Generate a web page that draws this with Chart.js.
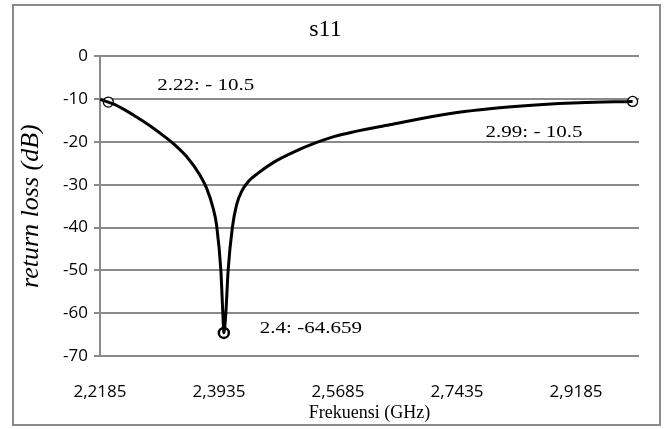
<!DOCTYPE html>
<html>
<head>
<meta charset="utf-8">
<script src="https://cdn.jsdelivr.net/npm/chart.js@4/dist/chart.umd.min.js"></script>
<style>
html,body{margin:0;padding:0;background:#fff;}
#wrap{width:670px;height:429px;position:relative;}
</style>
</head>
<body>
<div id="wrap"><canvas id="c" width="670" height="429"></canvas></div>
<script>
// ---- data ----
const freqGHz = [2.2185, 2.2307, 2.2405, 2.2674, 2.2919, 2.3164, 2.3286, 2.3458, 2.3653, 2.3752, 2.3849, 2.3899, 2.3962, 2.3991, 2.4006, 2.4035, 2.4069, 2.4131, 2.4193, 2.4266, 2.4363, 2.4509, 2.4755, 2.5000, 2.5342, 2.5636, 2.5929, 2.6443, 2.7032, 2.7545, 2.8059, 2.8646, 2.9233, 3.0016];
const returnLossDb = [-10.1, -10.7, -11.3, -13.7, -16.2, -19.1, -20.7, -23.4, -27.7, -30.8, -35.5, -39.4, -50, -60, -64.6, -60, -50, -40, -34.7, -31.6, -29.3, -27.3, -24.6, -22.6, -20.3, -18.7, -17.6, -16.0, -14.2, -12.9, -12.0, -11.3, -10.85, -10.55];
const markerFreq = [2.2307, 2.4006, 3.0016];
const markerDb = [-10.7, -64.6, -10.55];
const markerLabels = ['2.22: - 10.5', '2.4: -64.659', '2.99: - 10.5'];
const xTicks = [2.2185, 2.3935, 2.5685, 2.7435, 2.9185];
const yTicks = [0, -10, -20, -30, -40, -50, -60, -70];

const GRID = '#8a8a8a';

const lineData = freqGHz.map((f, i) => ({x: f, y: returnLossDb[i]}));
const markerData = markerFreq.map((f, i) => ({x: f, y: markerDb[i]}));

// label offsets relative to marker pixel (style only)
const labelOffsets = [[49, -17], [36, -4], [-147, 31]];

const framePlugin = {
  id: 'frame',
  beforeDraw(chart) {
    const ctx = chart.ctx;
    ctx.save();
    ctx.fillStyle = '#fff';
    ctx.fillRect(0, 0, chart.width, chart.height);
    ctx.restore();
  },
  afterDraw(chart) {
    const ctx = chart.ctx;
    ctx.save();
    ctx.strokeStyle = GRID;
    ctx.lineWidth = 2;
    ctx.strokeRect(13, 5, 647, 420);
    // marker labels
    const meta = chart.getDatasetMeta(1);
    ctx.fillStyle = '#000';
    ctx.font = '17.5px "Liberation Serif", "Times New Roman", serif';
    ctx.textBaseline = 'middle';
    ctx.textAlign = 'left';
    meta.data.forEach((pt, i) => {
      const x = pt.x + labelOffsets[i][0];
      const y = pt.y + labelOffsets[i][1];
      ctx.save();
      ctx.translate(x, y);
      ctx.scale(1.2, 1);
      ctx.fillText(markerLabels[i], 0, 0);
      ctx.restore();
    });
    ctx.restore();
  }
};

new Chart(document.getElementById('c'), {
  type: 'scatter',
  data: {
    datasets: [
      {
        data: lineData,
        showLine: true,
        borderColor: '#000',
        borderWidth: 3,
        pointRadius: 0,
        cubicInterpolationMode: 'monotone',
        fill: false
      },
      {
        data: markerData,
        showLine: false,
        pointRadius: 5,
        pointBackgroundColor: '#fff',
        pointBorderColor: '#000',
        pointBorderWidth: [1.3, 2.5, 1.3]
      }
    ]
  },
  options: {
    responsive: false,
    animation: false,
    events: [],
    layout: {padding: {top: 4, left: 12, right: 31, bottom: 0}},
    plugins: {
      legend: {display: false},
      tooltip: {enabled: false},
      title: {
        display: true,
        text: 's11',
        color: '#000',
        font: {family: '"Liberation Serif", "Times New Roman", serif', size: 24, weight: 'normal'},
        padding: {top: 11.5, bottom: 12}
      }
    },
    scales: {
      x: {
        type: 'linear',
        min: 2.2185,
        max: 3.011,
        afterBuildTicks(scale) { scale.ticks = xTicks.map(v => ({value: v})); },
        afterFit(scale) { scale.height = 73; },
        grid: {display: false, drawTicks: false},
        border: {display: false},
        ticks: {
          color: '#000',
          padding: 26,
          font: {family: '"Open Sans", sans-serif', size: 17},
          callback: (v) => v.toFixed(4).replace('.', ',')
        },
        title: {
          display: true,
          text: 'Frekuensi (GHz)',
          color: '#000',
          font: {family: '"Liberation Serif", "Times New Roman", serif', size: 18},
          padding: {top: 0, bottom: 5}
        }
      },
      y: {
        type: 'linear',
        min: -70,
        max: 0,
        afterBuildTicks(scale) { scale.ticks = yTicks.map(v => ({value: v})); },
        afterFit(scale) { scale.width = 88; },
        grid: {color: GRID, lineWidth: 2, tickLength: 6, tickColor: GRID},
        border: {display: true, color: GRID, width: 2},
        ticks: {
          color: '#000',
          padding: 6,
          font: {family: '"Open Sans", sans-serif', size: 17}
        },
        title: {
          display: true,
          text: 'return loss (dB)',
          color: '#000',
          font: {family: '"Liberation Serif", "Times New Roman", serif', size: 26, style: 'italic'},
          padding: {top: 4, bottom: 0}
        }
      }
    }
  },
  plugins: [framePlugin]
});
</script>
</body>
</html>
